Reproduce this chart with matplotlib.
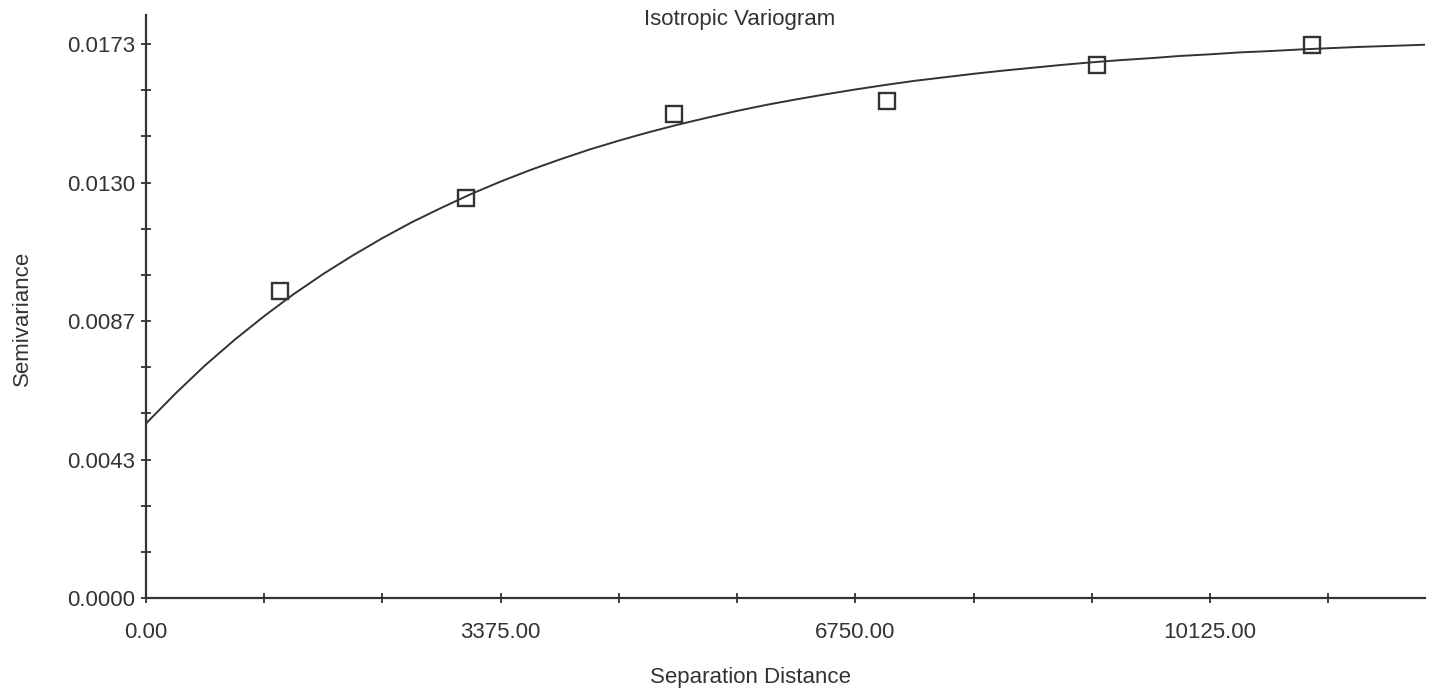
import matplotlib
matplotlib.use('Agg')
from matplotlib import pyplot as plt
from matplotlib.ticker import MultipleLocator, FixedLocator

# experimental variogram points (lag distance, semivariance)
lag_dist = [1275, 3041, 5023, 7052, 9047, 11092]
semivar = [0.00960, 0.01250, 0.01514, 0.01556, 0.01667, 0.01730]

# fitted model curve
model_dist = [0, 281.25, 562.5, 843.75, 1125, 1406.25, 1687.5, 1968.75, 2250,
              2531.25, 2812.5, 3093.75, 3375, 3656.25, 3937.5, 4218.75, 4500,
              4781.25, 5062.5, 5343.75, 5625, 5906.25, 6187.5, 6468.75, 6750,
              7031.25, 7312.5, 7593.75, 7875, 8156.25, 8437.5, 8718.75, 9000,
              9281.25, 9562.5, 9843.75, 10125, 10406.25, 10687.5, 10968.75,
              11250, 11531.25, 11812.5, 12170]
model_semivar = [0.00546, 0.00640, 0.00728, 0.00808, 0.00882, 0.00951, 0.01014,
                 0.01072, 0.01126, 0.01176, 0.01221, 0.01264, 0.01303, 0.01339,
                 0.01372, 0.01403, 0.01431, 0.01457, 0.01481, 0.01503, 0.01524,
                 0.01543, 0.01560, 0.01576, 0.01591, 0.01605, 0.01618, 0.01629,
                 0.01640, 0.01650, 0.01659, 0.01668, 0.01676, 0.01683, 0.01689,
                 0.01696, 0.01701, 0.01707, 0.01711, 0.01716, 0.01720, 0.01724,
                 0.01727, 0.01731]

x_ticks = [0, 3375, 6750, 10125]
x_labels = ['0.00', '3375.00', '6750.00', '10125.00']
y_ticks = [0.0, 0.0043325, 0.008665, 0.0129975, 0.01733]
y_labels = ['0.0000', '0.0043', '0.0087', '0.0130', '0.0173']

ink = '#333333'
plt.rcParams['font.family'] = ['Liberation Sans', 'DejaVu Sans']

W, H = 1435, 695
fig = plt.figure(figsize=(W / 100, H / 100), dpi=100)
ax = fig.add_axes([146 / W, 1 - 598 / H, (1425 - 146) / W, (598 - 15) / H])

ax.plot(model_dist, model_semivar, color=ink, lw=1.4, solid_joinstyle='round')
ax.plot(lag_dist, semivar, ls='none', marker='s', ms=11.5, mfc='none',
        mec=ink, mew=1.7)

ax.set_xlim(0, 12170)
ax.set_ylim(0, 0.01824)

ax.xaxis.set_major_locator(FixedLocator(x_ticks))
ax.set_xticklabels(x_labels)
ax.xaxis.set_minor_locator(MultipleLocator(1125))
ax.yaxis.set_major_locator(FixedLocator(y_ticks))
ax.set_yticklabels(y_labels)
ax.yaxis.set_minor_locator(MultipleLocator(0.0043325 / 3))

for side in ['top', 'right']:
    ax.spines[side].set_visible(False)
for side in ['left', 'bottom']:
    ax.spines[side].set_color(ink)
    ax.spines[side].set_linewidth(1.6)

ax.tick_params(which='both', direction='inout', length=7, width=1.3, color=ink,
               labelcolor=ink, labelsize=16)
ax.tick_params(axis='x', pad=14)
ax.tick_params(axis='y', pad=4)

fig.text(740 / W, 1 - 20 / H, 'Isotropic Variogram', ha='center', va='center',
         fontsize=16, color=ink)
fig.text(750 / W, 1 - 678 / H, 'Separation Distance', ha='center', va='center',
         fontsize=16, color=ink)
fig.text(22 / W, 1 - 318 / H, 'Semivariance', ha='center', va='center',
         rotation=90, fontsize=16, color=ink)

fig.savefig('out.png', dpi=100)
